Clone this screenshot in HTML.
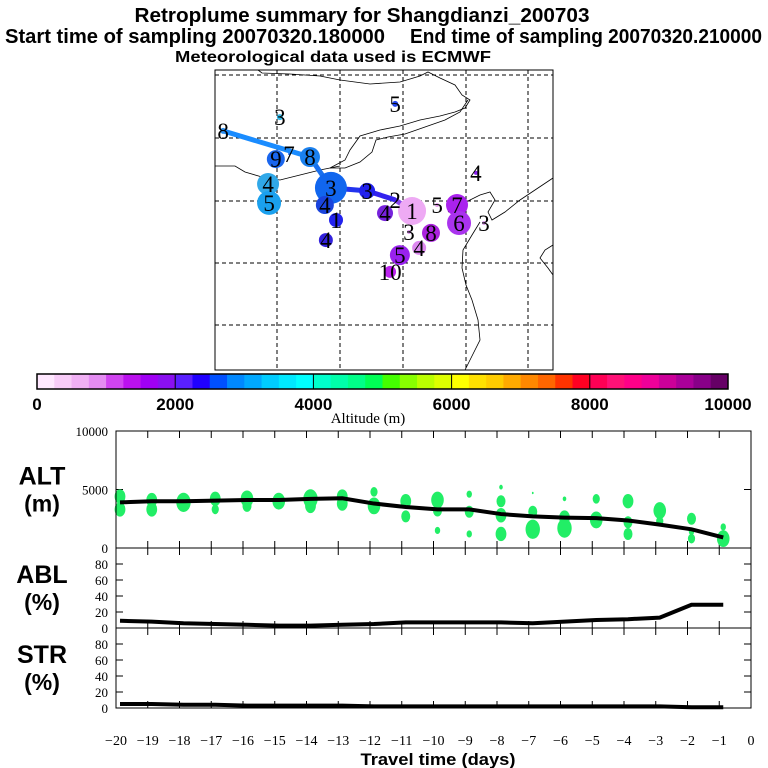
<!DOCTYPE html>
<html><head><meta charset="utf-8"><style>body{margin:0;background:#fff}svg{display:block}</style></head>
<body>
<svg id="s" width="768" height="768" xmlns="http://www.w3.org/2000/svg" font-family="Liberation Sans, sans-serif">
<rect width="768" height="768" fill="#fff"/>
<g font-weight="bold" text-anchor="middle">
<text x="362" y="22" font-size="20" textLength="455" lengthAdjust="spacingAndGlyphs">Retroplume summary for Shangdianzi_200703</text>
<text x="195" y="43" font-size="20" textLength="380" lengthAdjust="spacingAndGlyphs">Start time of sampling 20070320.180000</text>
<text x="586" y="43" font-size="20" textLength="352" lengthAdjust="spacingAndGlyphs">End time of sampling 20070320.210000</text>
<text x="333" y="62" font-size="16" textLength="316" lengthAdjust="spacingAndGlyphs">Meteorological data used is ECMWF</text>
</g>
<g id="map"></g>
<g id="cbar"></g>
<g id="panels"></g>
</svg>
<script>
const NS='http://www.w3.org/2000/svg';
function mk(p,t,a,txt){const e=document.createElementNS(NS,t);for(const k in a)e.setAttribute(k,a[k]);if(txt!==undefined)e.textContent=txt;p.appendChild(e);return e;}

// ---- data ----
const days=[-20,-19,-18,-17,-16,-15,-14,-13,-12,-11,-10,-9,-8,-7,-6,-5,-4,-3,-2,-1];
const altMean=[3900,4000,4000,4050,4100,4100,4200,4250,3800,3500,3300,3300,2900,2700,2600,2550,2350,2000,1600,900];
const ablPct=[9,8,6,5,4,3,3,4,5,7,7,7,7,6,8,10,11,13,29,29];
const strPct=[5,5,4,4,3,3,3,3,2,2,2,2,2,2,2,2,2,2,1,1];
const blobDay=[-20,-20,-19,-19,-18,-17,-17,-16,-16,-15,-14,-14,-13,-13,-12,-12,-11,-11,-10,-10,-10,-9,-9,-9,-8,-8,-8,-8,-7,-7,-7,-6,-6,-6,-5,-5,-4,-4,-4,-3,-3,-2,-2,-2,-1,-1];
const blobAlt=[4400,3300,4100,3300,3900,4200,3300,4200,3600,4000,4200,3600,4400,3800,4800,3600,4000,2700,4100,3200,1500,4600,3100,1200,5200,4000,2800,1200,4700,3100,1600,4200,2600,1700,4200,2400,4000,2200,1200,3200,2300,2500,1400,800,1800,800];
const blobSize=[6,6,6,6,8,6,4,7,5,7,8,6,6,6,4,7,6,5,7,5,3,3,5,3,2,5,6,6,1,5,8,2,6,8,4,7,6,5,5,7,4,5,3,4,3,7];
// map cluster positions in map units (0..100 across / down the map frame)
const mapX=[2.4,19.2,53.3,18.0,21.9,28.1,15.7,16.0,34.3,32.5,35.8,32.8,45.0,53.3,50.3,58.3,65.7,71.6,72.2,63.9,57.4,60.4,54.7,51.8,79.6,77.2];
const mapY=[20.3,15.7,11.3,29.7,28.0,29.0,38.0,44.3,39.3,45.0,50.0,56.7,40.3,43.3,47.7,47.0,45.0,45.0,51.0,54.3,54.0,59.3,61.7,67.3,51.0,34.3];
const mapAlt=[2900,3300,2300,2600,2800,2800,3100,3100,2650,2500,2300,2100,2300,2200,1800,300,700,1200,1200,1300,700,800,1600,1300,600,1500];
const mapR=[3,3,3,9,1,10,11,12,16,9,7,7,8,2,8,14,2,11,12,9,2,7,10,6,2,2];
const mapLbl=['8','3','5','9','7','8','4','5','3','4','1','4','3','2','4','1','5','7','6','8','3','4','5','10','3','4'];
const cbTicks=[0,2000,4000,6000,8000,10000];
const cbColors=['#ffe8ff','#f8ccf8','#f0b0f4','#e48cf2','#d044f0','#bb11ee','#a000f4','#8a10f0',
'#5a20ff','#2000ff','#0050ff','#0088ff','#00a8ff','#00ccff','#00e8ff','#00ffff',
'#00ffcc','#00ffaa','#00ff88','#00ff55','#44ff00','#88ff00','#bbff00','#ddff00',
'#ffff00','#ffe000','#ffcc00','#ffaa00','#ff8800','#ff6600','#ff3300','#ff0022',
'#ff0055','#ff1177','#ff0088','#ee0099','#cc0099','#aa0099','#880088','#660066'];
const altTicks=[0,5000,10000];
const pctTicks=[0,20,40,60,80];
const xTicks=[-20,-19,-18,-17,-16,-15,-14,-13,-12,-11,-10,-9,-8,-7,-6,-5,-4,-3,-2,-1,0];

const mapColors=['#2a8ef0','#30b8e8','#2244ee','#1a66ee','#1a66ee','#1a80ee','#30a8e8','#1aa0ee','#1166ee','#1a44dd','#2222ee','#3322dd','#2222ee','#4422ee','#7722dd','#eeaaf4','#e8a0f0','#aa22ee','#aa33ee','#aa22dd','#dd99f0','#dd88f0','#9922ee','#bb22ee','#dd99f0','#8822ee'];

// ---- map ----
const map=document.getElementById('map');
const MX0=215,MX1=553,MY0=70,MY1=370;
const mx=v=>MX0+v/100*(MX1-MX0), my=v=>MY0+v/100*(MY1-MY0);
const coast=[
"M258,70 L262,73 L290,74 L320,76 L340,80 L370,84 L400,82 L420,76 L428,72 L440,78 L455,85 L462,95 L470,100 L465,108 L455,112 L440,116 L420,120 L400,126 L380,130 L360,136 L350,150 L345,160 L330,168",
"M215,166 L235,166 L245,172 L262,177 L280,180 L300,175 L320,170 L340,166",
"M330,168 L345,168 L360,162 L372,152 L376,140 L388,137 L405,134 L425,127 L445,120 L460,112 L468,100",
"M448,212 L460,205 L470,200 L480,195 L490,192 L495,200 L488,212 L492,220 L505,212 L520,200 L535,190 L553,178",
"M480,222 L472,235 L463,250 L462,268 L466,285 L472,300 L478,320 L480,340 L470,360 L465,370",
"M553,245 L545,250 L540,258 L548,268 L553,275"
];
coast.forEach(d=>{const e=mk(map,'path',{d,fill:'none',stroke:'#000','stroke-width':0.8});});
[277,340,403,466,528].forEach(x=>{const e=mk(map,'line',{x1:x,y1:MY0,x2:x,y2:MY1,stroke:'#000','stroke-dasharray':'4,3','stroke-width':1});});
[75,138,201,263,325].forEach(y=>{const e=mk(map,'line',{x1:MX0,y1:y,x2:MX1,y2:y,stroke:'#000','stroke-dasharray':'4,3','stroke-width':1});});
const trajIdx=[0,5,8,12,13,15];
const trajCol=['#1a8cff','#1a70ee','#2233ee','#3322ee','#8844ee'];
for(let k=0;k<trajIdx.length-1;k++){const a=trajIdx[k],b=trajIdx[k+1];
 const e=mk(map,'line',{x1:mx(mapX[a]),y1:my(mapY[a]),x2:mx(mapX[b]),y2:my(mapY[b]),stroke:trajCol[k],'stroke-width':5});
 }
mapX.forEach((v,i)=>{
 const c=mk(map,'circle',{cx:mx(v),cy:my(mapY[i]),r:mapR[i],fill:mapColors[i]});
 
});
mapX.forEach((v,i)=>{
 const t=mk(map,'text',{x:mx(v),y:my(mapY[i])+8,'font-family':'Liberation Serif, serif','font-size':23,'text-anchor':'middle',fill:'#000'},mapLbl[i]);
 
});
mk(map,'rect',{x:MX0,y:MY0,width:MX1-MX0,height:MY1-MY0,fill:'none',stroke:'#000','stroke-width':1});

// ---- colorbar ----
const cb=document.getElementById('cbar');
const CX0=37,CX1=728,CY=374,CH=15;const cw=(CX1-CX0)/cbColors.length;
cbColors.forEach((c,i)=>{const r=mk(cb,'rect',{x:CX0+i*cw,y:CY,width:cw+0.5,height:CH,fill:c});});
cbTicks.forEach(v=>{const x=CX0+v/10000*(CX1-CX0);
 if(v>0&&v<10000)mk(cb,'line',{x1:x,y1:CY,x2:x,y2:CY+CH,stroke:'#000','stroke-width':1});
 const t=mk(cb,'text',{x:x,y:410,'font-size':17,'font-weight':'bold','text-anchor':'middle'},String(v));
 });
mk(cb,'rect',{x:CX0,y:CY,width:CX1-CX0,height:CH,fill:'none',stroke:'#000','stroke-width':1.5});
{const t=mk(cb,'text',{x:368,y:423,'font-size':15,'font-family':'Liberation Serif, serif','text-anchor':'middle'},'Altitude (m)');}

// ---- panels ----
const P=document.getElementById('panels');
const PX0=116,PX1=751;
const px=d=>PX0+(d+20)/20*(PX1-PX0);
const panels=[
 {name:'alt',y0:431,y1:548,max:10000,ticks:altTicks,l1:'ALT',l2:'(m)',data:altMean},
 {name:'abl',y0:548,y1:628,max:100,ticks:pctTicks,l1:'ABL',l2:'(%)',data:ablPct},
 {name:'str',y0:628,y1:708,max:100,ticks:pctTicks,l1:'STR',l2:'(%)',data:strPct}];
panels.forEach(p=>{
 const py=v=>p.y1-v/p.max*(p.y1-p.y0);
 xTicks.forEach(d=>{const x=px(d);
  mk(P,'line',{x1:x,y1:p.y0,x2:x,y2:p.y0+7,stroke:'#000'});
  mk(P,'line',{x1:x,y1:p.y1,x2:x,y2:p.y1-7,stroke:'#000'});});
 p.ticks.forEach(v=>{const y=py(v);
  mk(P,'line',{x1:PX0,y1:y,x2:PX0+7,y2:y,stroke:'#000'});
  mk(P,'line',{x1:PX1,y1:y,x2:PX1-7,y2:y,stroke:'#000'});
  const t=mk(P,'text',{x:PX0-8,y:y+5,'font-size':13,'font-family':'Liberation Serif, serif','text-anchor':'end'},String(v));
  });
 const a=mk(P,'text',{x:42,y:p.y0+(p.y1-p.y0)/2-5,'font-size':25,'font-weight':'bold','text-anchor':'middle'},p.l1);
 
 const b=mk(P,'text',{x:42,y:p.y0+(p.y1-p.y0)/2+22,'font-size':23,'font-weight':'bold','text-anchor':'middle'},p.l2);
 
 if(p.name==='alt'){
  blobDay.forEach((d,i)=>{const e=mk(P,'ellipse',{cx:px(d)+4,cy:py(blobAlt[i]),rx:blobSize[i]*0.9,ry:blobSize[i]*1.2,fill:'#22ee66'});
   });
 }
 const pts=days.map((d,i)=>px(d)+4+','+py(p.data[i])).join(' ');
 const l=mk(P,'polyline',{points:pts,fill:'none',stroke:'#000','stroke-width':4});
 
 mk(P,'rect',{x:PX0,y:p.y0,width:PX1-PX0,height:p.y1-p.y0,fill:'none',stroke:'#000','stroke-width':1});
});
xTicks.forEach(d=>{const t=mk(P,'text',{x:px(d),y:745,'font-size':14,'font-family':'Liberation Serif, serif','text-anchor':'middle'},d<0?'\u2212'+(-d):String(d));
 });
{const t=mk(P,'text',{x:438,y:765,'font-size':17,'font-weight':'bold','text-anchor':'middle',textLength:155,lengthAdjust:'spacingAndGlyphs'},'Travel time (days)');}
</script>
</body></html>
